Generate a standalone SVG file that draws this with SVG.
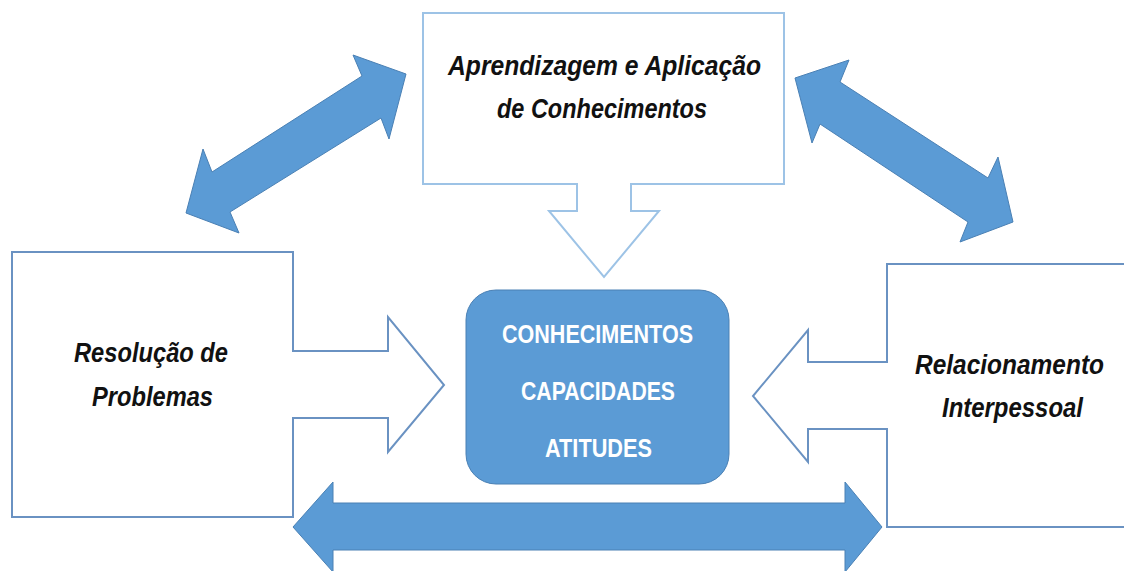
<svg xmlns="http://www.w3.org/2000/svg" width="1124" height="571" viewBox="0 0 1124 571">
  <style>
    .callout { fill: #ffffff; stroke-width: 2; stroke-linejoin: miter; }
    .dark { stroke: #6A92C2; }
    .light { stroke: #9DC3E6; }
    .lbl { font-family: "Liberation Sans", Arial, sans-serif; font-weight: bold; font-style: italic; font-size: 27px; fill: #111111; }
    .ctr { font-family: "Liberation Sans", Arial, sans-serif; font-weight: bold; font-size: 26px; fill: #ffffff; }
    .big { fill: #5B9BD5; stroke: #4A80B4; stroke-width: 1; stroke-linejoin: miter; }
  </style>
  <rect x="0" y="0" width="1124" height="571" fill="#ffffff"/>

  <g id="connectors">
    <polygon class="big" points="406,74 389,139 381,118 230,212 239,233 186,213 203,149 212,172 362,76 353,55"/>
    <polygon class="big" points="795,78 849,60 840,82 988,178 998,157 1013,222 960,242 968,222 820,124 812,143"/>
    <polygon class="big" points="293,527 333,482 333,503 845,503 845,482 882,527 845,572 845,550 333,550 333,572"/>
  </g>

  <g id="node-top">
    <path class="callout light" d="M423,13 H784 V184 H631 V211 H659 L604,277 L549,211 H577 V184 H423 Z"/>
    <text class="lbl" x="448" y="75" textLength="313" lengthAdjust="spacingAndGlyphs">Aprendizagem e Aplicação</text>
    <text class="lbl" x="497" y="118" textLength="210" lengthAdjust="spacingAndGlyphs">de Conhecimentos</text>
  </g>

  <g id="node-left">
    <path class="callout dark" d="M12,252 H293 V351 H388 V317 L444,385 L388,452 V418 H293 V517 H12 Z"/>
    <text class="lbl" x="74" y="362" textLength="154" lengthAdjust="spacingAndGlyphs">Resolução de</text>
    <text class="lbl" x="92" y="406" textLength="121" lengthAdjust="spacingAndGlyphs">Problemas</text>
  </g>

  <g id="node-right">
    <path class="callout dark" d="M1140,264 H887 V362 H808 V330 L753,396 L808,462 V429 H887 V527 H1140 Z"/>
    <text class="lbl" x="915" y="374" textLength="189" lengthAdjust="spacingAndGlyphs">Relacionamento</text>
    <text class="lbl" x="942" y="417" textLength="141" lengthAdjust="spacingAndGlyphs">Interpessoal</text>
  </g>

  <g id="node-center">
    <rect class="big" x="466" y="290" width="263" height="194" rx="30" ry="30"/>
    <text class="ctr" x="502" y="343" textLength="191" lengthAdjust="spacingAndGlyphs">CONHECIMENTOS</text>
    <text class="ctr" x="521" y="400" textLength="154" lengthAdjust="spacingAndGlyphs">CAPACIDADES</text>
    <text class="ctr" x="545" y="457" textLength="107" lengthAdjust="spacingAndGlyphs">ATITUDES</text>
  </g>
</svg>
